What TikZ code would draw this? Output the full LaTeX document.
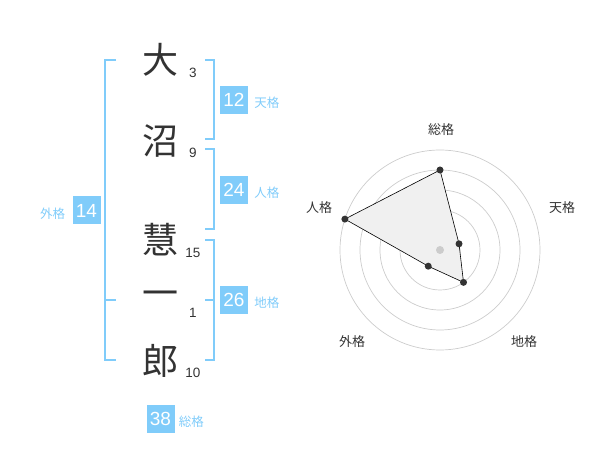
\documentclass[tikz,border=0pt]{standalone}
\usepackage{fontspec}
\setmainfont{Liberation Sans}
\newfontfamily\jp{Noto Sans CJK JP}
\usetikzlibrary{positioning}
\definecolor{kaku}{RGB}{128,204,250}
\definecolor{ink}{RGB}{51,51,51}

\begin{document}
\begin{tikzpicture}[x=1pt,y=-1pt,
	kanji/.style={font=\jp\fontsize{36}{36}\selectfont, text=ink, inner sep=0pt},
	strokes/.style={font=\fontsize{13.5}{13.5}\selectfont, text=ink, inner sep=0pt},
	score/.style={fill=kaku, text=white, minimum size=28pt, inner sep=0pt, font=\fontsize{19}{19}\selectfont},
	kakuname/.style={font=\jp\fontsize{12.5}{12.5}\selectfont, text=kaku, inner sep=0pt},
	bracket/.style={draw=kaku, line width=2pt},
	axisname/.style={font=\jp\fontsize{13}{13}\selectfont, text=ink, inner sep=0pt},
	ring/.style={draw=black!20, line width=0.7pt},
	dot/.style={circle, fill=ink, minimum size=7pt, inner sep=0pt}]

	\useasboundingbox (0,0) rectangle (600,470);

	% name
	\node[kanji] (k1) at (160,60) {大};
	\node[kanji] (k2) at (160,141) {沼};
	\node[kanji] (k3) at (160,240) {慧};
	\node[kanji] (k4) at (160,299) {一};
	\node[kanji] (k5) at (160,361) {郎};

	\node[strokes] (n1) at (193,73) {3};
	\node[strokes] (n2) at (193,153) {9};
	\node[strokes] (n3) at (193,253) {15};
	\node[strokes] (n4) at (193,313) {1};
	\node[strokes] (n5) at (193,373) {10};

	% brackets
	\draw[bracket] (116,60) -- (105,60) -- (105,360) -- (116,360);
	\draw[bracket] (105,300) -- (116,300);
	\draw[bracket] (205,60) -- (214,60) -- (214,139) -- (205,139);
	\draw[bracket] (205,149) -- (214,149) -- (214,229) -- (205,229);
	\draw[bracket] (205,240) -- (214,240) -- (214,360) -- (205,360);
	\draw[bracket] (214,300) -- (205,300);

	% scores
	\node[score] (ten) at (234,100) {12};
	\node[kakuname, right=6pt of ten, yshift=-3pt] (tenname) {天格};
	\node[score] (jin) at (234,190) {24};
	\node[kakuname, right=6pt of jin, yshift=-3pt] (jinname) {人格};
	\node[score] (chi) at (234,300) {26};
	\node[kakuname, right=6pt of chi, yshift=-3pt] (chiname) {地格};
	\node[score] (gai) at (86.5,210.5) {14};
	\node[kakuname, left=7pt of gai, yshift=-3pt] (gainame) {外格};
	\node[score] (sou) at (160.5,419) {38};
	\node[kakuname, right=4pt of sou, yshift=-3pt] (souname) {総格};

	% radar
	\begin{scope}[shift={(440,250)}, y=1pt]
		\foreach \r in {20,40,60,80,100}
			\draw[ring] (0,0) circle (\r);
		\coordinate (rsou) at (90:80);
		\coordinate (rten) at (18:20);
		\coordinate (rchi) at (-54:40);
		\coordinate (rgai) at (-126:20);
		\coordinate (rjin) at (162:100);
		\fill[black!6] (rsou) -- (rten) -- (rchi) -- (rgai) -- (rjin) -- cycle;
		\draw[black, line width=0.6pt] (rsou) -- (rten) -- (rchi) -- (rgai) -- (rjin) -- cycle;
		\node[circle, fill=black!20, minimum size=8pt, inner sep=0pt] (mid) at (0,0) {};
		\node[dot] (dsou) at (rsou) {};
		\node[dot] (dten) at (rten) {};
		\node[dot] (dchi) at (rchi) {};
		\node[dot] (dgai) at (rgai) {};
		\node[dot] (djin) at (rjin) {};

		\node[axisname] (asou) at (1,120) {総格};
		\node[axisname] (aten) at (122,42) {天格};
		\node[axisname] (achi) at (84,-92) {地格};
		\node[axisname] (agai) at (-88,-92) {外格};
		\node[axisname] (ajin) at (-121,42) {人格};
	\end{scope}

\end{tikzpicture}
\end{document}
